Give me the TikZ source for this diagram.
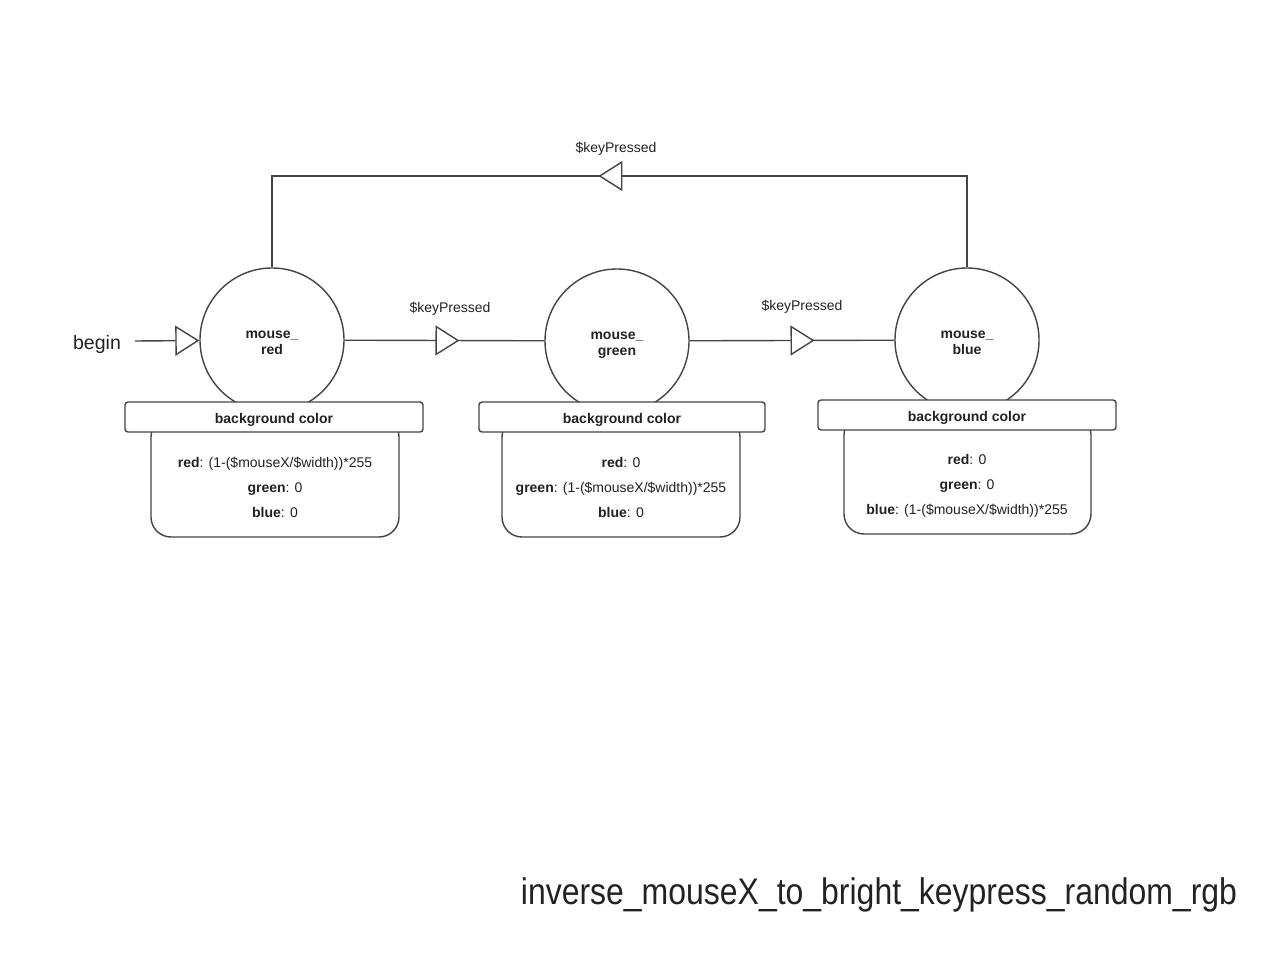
\documentclass[tikz,border=0pt]{standalone}
\usepackage{fontspec}
\setmainfont{Liberation Sans}
\usetikzlibrary{arrows.meta,decorations.markings}

\definecolor{edgegray}{HTML}{444444}
\definecolor{textgray}{HTML}{222222}

\newcommand{\statetext}[2]{\begin{tabular}[t]{@{}c@{}}#1\\#2\end{tabular}}

\tikzset{
    tri/.tip={Triangle[open,length=24pt,width=30pt,fill=white]},
    tri at/.style={postaction={decorate,decoration={markings,mark=at position #1 with {\arrow{tri}}}}}
}

\begin{document}
\begin{tikzpicture}[
    x=1pt, y=-1pt,
    state/.style={circle, draw=edgegray, line width=1.4pt, fill=white, minimum size=144pt, inner sep=0pt, text height=10pt, text depth=14pt, text=textgray, font=\fontsize{14}{16}\selectfont\bfseries},
    header/.style={rectangle, draw=edgegray, line width=1.4pt, fill=white, rounded corners=3pt, minimum width=298pt, minimum height=30pt, inner sep=0pt, text height=12pt, text depth=0pt, text=textgray, font=\fontsize{14}{16}\selectfont\bfseries},
    body/.style={rectangle, draw=edgegray, line width=1.4pt, fill=white, rounded corners=20pt, minimum height=120pt, inner sep=0pt},
    values/.style={align=center, text=textgray, font=\fontsize{14}{25}\selectfont},
    label/.style={text=textgray, font=\fontsize{14}{16}\selectfont},
    line/.style={draw=edgegray, line width=1.4pt}
]
\useasboundingbox (0,0) rectangle (1280,960);

% states
\node[state] (red) at (272,340) {\statetext{mouse\_}{red}};
\node[state] (green) at (617,341) {\statetext{mouse\_}{green}};
\node[state] (blue) at (967,340) {\statetext{mouse\_}{blue}};

% background color boxes
\node[body, minimum width=248pt] (redbody) at (275,477) {};
\node[header] (redhead) at (274,417) {background color};
\node[values] (redvals) at (275,487) {\textbf{red}: (1-(\$mouseX/\$width))*255\\\textbf{green}: 0\\\textbf{blue}: 0};

\node[body, minimum width=238pt] (greenbody) at (621,477) {};
\node[header, minimum width=286pt] (greenhead) at (622,417) {background color};
\node[values] (greenvals) at (621,487) {\textbf{red}: 0\\\textbf{green}: (1-(\$mouseX/\$width))*255\\\textbf{blue}: 0};

\node[body, minimum width=247pt, minimum height=119pt] (bluebody) at (967.5,474.5) {};
\node[header] (bluehead) at (967,415) {background color};
\node[values] (bluevals) at (967,486) {\textbf{red}: 0\\\textbf{green}: 0\\\textbf{blue}: (1-(\$mouseX/\$width))*255};

% transitions
\node[label, font=\fontsize{19.5}{22}\selectfont] (begin) at (97,344) {begin};
\coordinate (start) at (135,341);
\draw[line, -tri] (start) -- (red);

\draw[line, tri at=0.575] (red) -- (green);
\node[label] (key1) at (450,309) {\$keyPressed};

\draw[line, tri at=0.61] (green) -- (blue);
\node[label] (key2) at (802,307) {\$keyPressed};

\coordinate (loopR) at (967,176);
\coordinate (loopL) at (272,176);
\draw[line, line join=miter, tri at=0.524] (blue) -- (loopR) -- (loopL) -- (red);
\node[label] (key3) at (616,149) {\$keyPressed};

% title
\node[text=textgray, font=\fontsize{37}{40}\selectfont] (title) at (879,895) {\scalebox{0.864}[1]{inverse\_mouseX\_to\_bright\_keypress\_random\_rgb}};

\end{tikzpicture}
\end{document}
